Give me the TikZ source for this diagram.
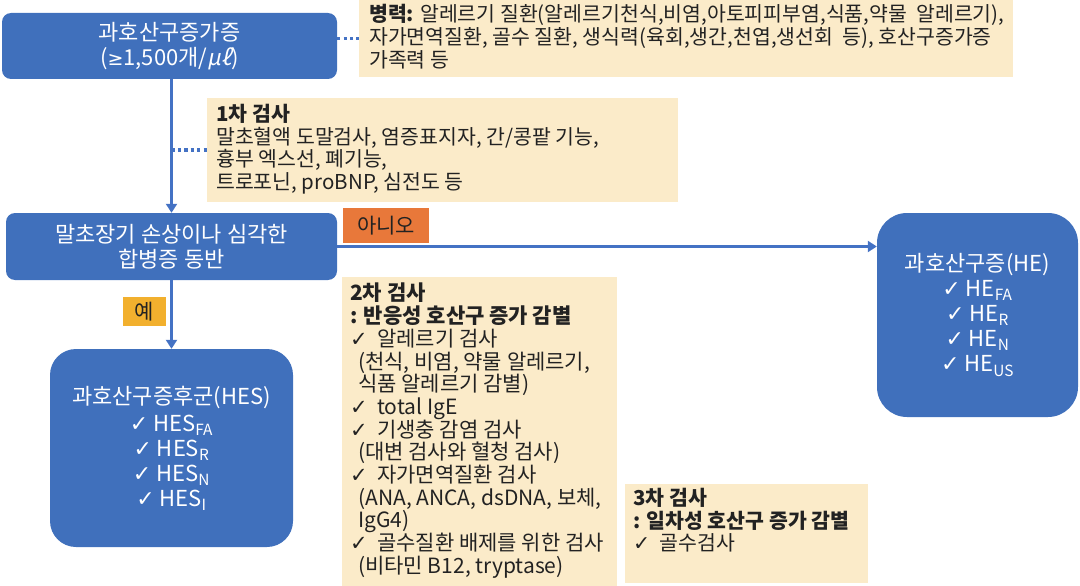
\documentclass[tikz,border=0pt]{standalone}
\usepackage{fontspec}
\setmainfont{Noto Sans CJK KR}
\newfontfamily\djv{DejaVu Sans}
\newfontfamily\slnt[FakeSlant=0.2]{Noto Sans CJK KR}
\usetikzlibrary{arrows.meta}
\definecolor{bblue}{HTML}{4070BC}
\definecolor{wheat}{HTML}{FBEBC9}
\definecolor{orng}{HTML}{E8783A}
\definecolor{gold}{HTML}{F2B02E}
\definecolor{linkblue}{HTML}{4472C4}
\definecolor{ink}{HTML}{222222}
\newcommand{\ck}{{\djv ✓}}
\begin{document}
\begin{tikzpicture}[x=1pt,y=-1pt,
  bluebox/.style={fill=bblue, rounded corners=9pt, text=white, align=center,
    font=\fontsize{22}{25}\selectfont, inner sep=0pt},
  notebox/.style={fill=wheat, inner sep=0pt},
  notetext/.style={anchor=north west, align=left, inner sep=0pt, text=ink,
    font=\fontsize{20.5}{22.7}\selectfont},
  conn/.style={draw=linkblue, line width=2.6pt, -{Triangle[length=9pt,width=11pt]}},
  dotline/.style={draw=linkblue, line width=3.4pt, dash pattern=on 3.2pt off 3.2pt},
  tag/.style={inner sep=0pt, text=ink, font=\fontsize{21}{22}\selectfont}]
\useasboundingbox (0,0) rectangle (1080,586);

% blue boxes
\node[bluebox, minimum width=335pt, minimum height=66pt] (b1) at (169.5,46)
  {과호산구증가증\\({\djv\fontsize{19}{25}\selectfont ≥}1,500개/{\slnt μℓ})};
\node[bluebox, minimum width=331pt, minimum height=67pt] (b2) at (171.5,246.5)
  {말초장기 손상이나 심각한\\합병증 동반};
\node[bluebox, rounded corners=26pt, minimum width=243pt, minimum height=198pt] (b3) at (171.5,448)
  {과호산구증후군(HES)\\[2pt]\ck\ HES\textsubscript{FA}\\\ck\ HES\textsubscript{R}\\\ck\ HES\textsubscript{N}\\\ck\ HES\textsubscript{I}};
\node[bluebox, rounded corners=30pt, minimum width=201pt, minimum height=204pt] (b4) at (977.5,315)
  {과호산구증(HE)\\\ck\ HE\textsubscript{FA}\\\ck\ HE\textsubscript{R}\\\ck\ HE\textsubscript{N}\\\ck\ HE\textsubscript{US}};

% note boxes
\node[notebox, minimum width=654pt, minimum height=77pt] (hist) at (686,38.5) {};
\node[notetext] (histtext) at (369,4.5)
  {\textbf{병력:} 알레르기 질환(알레르기천식,비염,아토피피부염,식품,약물\ \ 알레르기),\\
   자가면역질환, 골수 질환, 생식력(육회,생간,천엽,생선회\ \ 등), 호산구증가증\\
   가족력 등};
\node[notebox, minimum width=471pt, minimum height=104pt] (t1) at (442.5,150) {};
\node[notetext] (t1text) at (216,104)
  {\textbf{1차 검사}\\
   말초혈액 도말검사, 염증표지자, 간/콩팥 기능,\\
   흉부 엑스선, 폐기능,\\
   트로포닌, proBNP, 심전도 등};
\node[notebox, minimum width=275pt, minimum height=309pt] (t2) at (479.5,431.5) {};
\node[notetext, font=\fontsize{21}{22.7}\selectfont] (t2text) at (350,283)
  {\textbf{2차 검사}\\
   \textbf{: 반응성 호산구 증가 감별}\\
   \ck\ \ 알레르기 검사\\
   \hspace*{8pt}(천식, 비염, 약물 알레르기,\\
   \hspace*{8pt}식품 알레르기 감별)\\
   \ck\ \ total IgE\\
   \ck\ \ 기생충 감염 검사\\
   \hspace*{8pt}(대변 검사와 혈청 검사)\\
   \ck\ \ 자가면역질환 검사\\
   \hspace*{8pt}(ANA, ANCA, dsDNA, 보체,\\
   \hspace*{8pt}IgG4)\\
   \ck\ \ 골수질환 배제를 위한 검사\\
   \hspace*{8pt}(비타민 B12, tryptase)};
\node[notebox, minimum width=243pt, minimum height=99pt] (t3) at (746.5,533.5) {};
\node[notetext] (t3text) at (633,488)
  {\textbf{3차 검사}\\
   \textbf{: 일차성 호산구 증가 감별}\\
   \ck\ \ 골수검사};

% connectors
\draw[dotline] (b1.east |- hist.west) -- (hist.west);
\draw[conn] (b1.south -| b2.north) -- (b2.north);
\coordinate (j1) at (b2.north |- t1.west);
\draw[dotline] (j1) -- (t1.west);
\draw[conn] (b2.south) -- (b3.north);
\draw[conn] (b2.east) -- (b4.west |- b2.east);

% labels
\node[tag, fill=gold, minimum width=43pt, minimum height=29pt] (yes) at (144.5,311.5) {예};
\node[tag, fill=orng, minimum width=86pt, minimum height=35pt] (no) at (386,225.5) {아니오};
\end{tikzpicture}
\end{document}
